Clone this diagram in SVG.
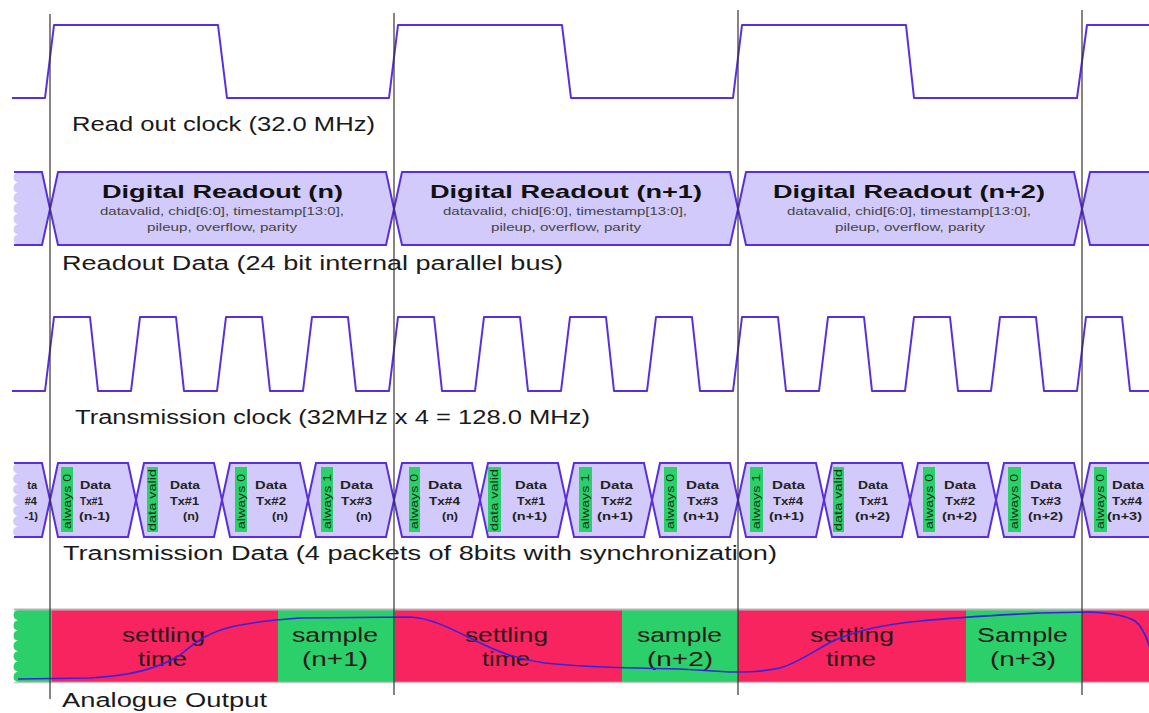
<svg xmlns="http://www.w3.org/2000/svg" width="1149" height="713" viewBox="0 0 1149 713">
<style>
.wave{fill:none;stroke:#5a2ee0;stroke-width:2;stroke-linejoin:round}
.bus{fill:#d2cafa;stroke:#5a2ee0;stroke-width:2;stroke-linejoin:miter}
.busf{fill:#d2cafa;stroke:none}
.edge{fill:none;stroke:#5a2ee0;stroke-width:2}
.lbl{font-family:"Liberation Sans",Arial,sans-serif;font-size:20px;fill:#1a1a1a}
.big{font-family:"Liberation Sans",Arial,sans-serif;font-size:19px;font-weight:bold;fill:#111}
.sub{font-family:"Liberation Sans",Arial,sans-serif;font-size:11px;fill:#444}
.pk{font-family:"Liberation Sans",Arial,sans-serif;font-size:11px;font-weight:bold;fill:#222}
.gr{fill:#2bd06a}
.gt{font-family:"Liberation Sans",Arial,sans-serif;font-size:10px;fill:#123018}
.red{fill:#f7245f}
.at{font-family:"Liberation Sans",Arial,sans-serif;font-size:20px;fill:#2a1a1a}
.vl{stroke:#333;stroke-width:1.2}
</style>

<!-- Read out clock -->
<g id="readout-clock">
<path class="wave" d="M12,98 L45,98 L54,25 L218,25 L227,98 L389,98 L398,25 L562,25 L571,98 L733,98 L742,25 L906,25 L914,98 L1077,98 L1087,25 L1149,25"/>
<text class="lbl" x="72" y="131" textLength="303" lengthAdjust="spacingAndGlyphs">Read out clock (32.0 MHz)</text>
</g>

<!-- Readout data bus -->
<g id="readout-data">
<path class="busf" d="M18,172 L42,172 L50,209 L42,245 L18,245 a5.3,5.3 0 0 1 0,-10.43 a5.3,5.3 0 0 1 0,-10.43 a5.3,5.3 0 0 1 0,-10.43 a5.3,5.3 0 0 1 0,-10.43 a5.3,5.3 0 0 1 0,-10.43 a5.3,5.3 0 0 1 0,-10.43 a5.3,5.3 0 0 1 0,-10.43 Z"/>
<path class="edge" d="M14,172 L42,172 L50,209 L42,245 L14,245"/>
<g id="readout-n">
<polygon class="bus" points="50,209 58,172 386,172 394,209 386,245 58,245"/>
<text class="big" x="102" y="198" textLength="241" lengthAdjust="spacingAndGlyphs">Digital Readout (n)</text>
<text class="sub" x="100" y="215" textLength="244" lengthAdjust="spacingAndGlyphs">datavalid, chid[6:0], timestamp[13:0],</text>
<text class="sub" x="147" y="231" textLength="150" lengthAdjust="spacingAndGlyphs">pileup, overflow, parity</text>
</g>
<g id="readout-n1">
<polygon class="bus" points="394,209 402,172 730,172 738,209 730,245 402,245"/>
<text class="big" x="430" y="198" textLength="272" lengthAdjust="spacingAndGlyphs">Digital Readout (n+1)</text>
<text class="sub" x="443" y="215" textLength="244" lengthAdjust="spacingAndGlyphs">datavalid, chid[6:0], timestamp[13:0],</text>
<text class="sub" x="491" y="231" textLength="150" lengthAdjust="spacingAndGlyphs">pileup, overflow, parity</text>
</g>
<g id="readout-n2">
<polygon class="bus" points="738,209 746,172 1074,172 1082,209 1074,245 746,245"/>
<text class="big" x="773" y="198" textLength="272" lengthAdjust="spacingAndGlyphs">Digital Readout (n+2)</text>
<text class="sub" x="787" y="215" textLength="244" lengthAdjust="spacingAndGlyphs">datavalid, chid[6:0], timestamp[13:0],</text>
<text class="sub" x="835" y="231" textLength="150" lengthAdjust="spacingAndGlyphs">pileup, overflow, parity</text>
</g>
<path class="bus" d="M1150,172 L1090,172 L1082,209 L1090,245 L1150,245"/>
<text class="lbl" x="62" y="270" textLength="501" lengthAdjust="spacingAndGlyphs">Readout Data (24 bit internal parallel bus)</text>
</g>

<!-- Transmission clock -->
<g id="transmission-clock">
<path class="wave" d="M12,391 L45,391 L54,317 L90,317 L98,391 L131,391 L140,317 L176,317 L184,391 L217,391 L226,317 L262,317 L270,391 L303,391 L312,317 L348,317 L356,391 L389,391 L398,317 L434,317 L442,391 L475,391 L484,317 L520,317 L528,391 L561,391 L570,317 L606,317 L614,391 L647,391 L656,317 L692,317 L700,391 L733,391 L742,317 L778,317 L786,391 L819,391 L828,317 L864,317 L872,391 L905,391 L914,317 L950,317 L958,391 L991,391 L1000,317 L1036,317 L1044,391 L1077,391 L1086,317 L1122,317 L1130,391 L1149,391"/>
<text class="lbl" x="75" y="424" textLength="515" lengthAdjust="spacingAndGlyphs">Transmission clock (32MHz x 4 = 128.0 MHz)</text>
</g>

<!-- Transmission data packets -->
<g id="transmission-data">
<path class="busf" d="M18,463 L42,463 L50,500 L42,537 L18,537 a5.3,5.3 0 0 1 0,-10.57 a5.3,5.3 0 0 1 0,-10.57 a5.3,5.3 0 0 1 0,-10.57 a5.3,5.3 0 0 1 0,-10.57 a5.3,5.3 0 0 1 0,-10.57 a5.3,5.3 0 0 1 0,-10.57 a5.3,5.3 0 0 1 0,-10.57 Z"/>
<path class="edge" d="M14,463 L42,463 L50,500 L42,537 L14,537"/>
<text class="pk" x="37" y="489" text-anchor="end">ta</text>
<text class="pk" x="37" y="505" text-anchor="end">#4</text>
<text class="pk" x="38" y="520" text-anchor="end">-1)</text>

<g id="pk0"><polygon class="bus" points="50,500 58,463 128,463 136,500 128,537 58,537"/><rect class="gr" x="61" y="467" width="12" height="65"/><text class="gt" transform="translate(71,529) rotate(-90)" textLength="55" lengthAdjust="spacingAndGlyphs">always 0</text><text class="pk" x="80" y="489" textLength="31" lengthAdjust="spacingAndGlyphs">Data</text><text class="pk" x="80" y="505" textLength="23" lengthAdjust="spacingAndGlyphs">Tx#1</text><text class="pk" x="79" y="520" textLength="31" lengthAdjust="spacingAndGlyphs">(n-1)</text></g>
<g id="pk1"><polygon class="bus" points="136,500 144,463 214,463 222,500 214,537 144,537"/><rect class="gr" x="147" y="467" width="11" height="65"/><text class="gt" transform="translate(156,531) rotate(-90)" textLength="62" lengthAdjust="spacingAndGlyphs">data valid</text><text class="pk" x="170" y="489" textLength="30" lengthAdjust="spacingAndGlyphs">Data</text><text class="pk" x="170" y="505" textLength="29" lengthAdjust="spacingAndGlyphs">Tx#1</text><text class="pk" x="183" y="520" textLength="16" lengthAdjust="spacingAndGlyphs">(n)</text></g>
<g id="pk2"><polygon class="bus" points="222,500 230,463 300,463 308,500 300,537 230,537"/><rect class="gr" x="235" y="467" width="12" height="65"/><text class="gt" transform="translate(245,529) rotate(-90)" textLength="55" lengthAdjust="spacingAndGlyphs">always 0</text><text class="pk" x="255" y="489" textLength="32" lengthAdjust="spacingAndGlyphs">Data</text><text class="pk" x="256" y="505" textLength="30" lengthAdjust="spacingAndGlyphs">Tx#2</text><text class="pk" x="272" y="520" textLength="16" lengthAdjust="spacingAndGlyphs">(n)</text></g>
<g id="pk3"><polygon class="bus" points="308,500 316,463 386,463 394,500 386,537 316,537"/><rect class="gr" x="321" y="467" width="12" height="65"/><text class="gt" transform="translate(331,529) rotate(-90)" textLength="55" lengthAdjust="spacingAndGlyphs">always 1</text><text class="pk" x="340" y="489" textLength="33" lengthAdjust="spacingAndGlyphs">Data</text><text class="pk" x="341" y="505" textLength="31" lengthAdjust="spacingAndGlyphs">Tx#3</text><text class="pk" x="356" y="520" textLength="16" lengthAdjust="spacingAndGlyphs">(n)</text></g>
<g id="pk4"><polygon class="bus" points="394,500 402,463 472,463 480,500 472,537 402,537"/><rect class="gr" x="409" y="467" width="11" height="65"/><text class="gt" transform="translate(418,529) rotate(-90)" textLength="55" lengthAdjust="spacingAndGlyphs">always 0</text><text class="pk" x="428" y="489" textLength="34" lengthAdjust="spacingAndGlyphs">Data</text><text class="pk" x="429" y="505" textLength="31" lengthAdjust="spacingAndGlyphs">Tx#4</text><text class="pk" x="442" y="520" textLength="16" lengthAdjust="spacingAndGlyphs">(n)</text></g>
<g id="pk5"><polygon class="bus" points="480,500 488,463 558,463 566,500 558,537 488,537"/><rect class="gr" x="488" y="467" width="13" height="65"/><text class="gt" transform="translate(498,531) rotate(-90)" textLength="62" lengthAdjust="spacingAndGlyphs">data valid</text><text class="pk" x="515" y="489" textLength="32" lengthAdjust="spacingAndGlyphs">Data</text><text class="pk" x="517" y="505" textLength="28" lengthAdjust="spacingAndGlyphs">Tx#1</text><text class="pk" x="512" y="520" textLength="35" lengthAdjust="spacingAndGlyphs">(n+1)</text></g>
<g id="pk6"><polygon class="bus" points="566,500 574,463 644,463 652,500 644,537 574,537"/><rect class="gr" x="579" y="467" width="13" height="65"/><text class="gt" transform="translate(589,529) rotate(-90)" textLength="55" lengthAdjust="spacingAndGlyphs">always 1</text><text class="pk" x="600" y="489" textLength="33" lengthAdjust="spacingAndGlyphs">Data</text><text class="pk" x="601" y="505" textLength="31" lengthAdjust="spacingAndGlyphs">Tx#2</text><text class="pk" x="597" y="520" textLength="36" lengthAdjust="spacingAndGlyphs">(n+1)</text></g>
<g id="pk7"><polygon class="bus" points="652,500 660,463 730,463 738,500 730,537 660,537"/><rect class="gr" x="664" y="467" width="13" height="65"/><text class="gt" transform="translate(674,529) rotate(-90)" textLength="55" lengthAdjust="spacingAndGlyphs">always 0</text><text class="pk" x="686" y="489" textLength="33" lengthAdjust="spacingAndGlyphs">Data</text><text class="pk" x="687" y="505" textLength="31" lengthAdjust="spacingAndGlyphs">Tx#3</text><text class="pk" x="683" y="520" textLength="36" lengthAdjust="spacingAndGlyphs">(n+1)</text></g>
<g id="pk8"><polygon class="bus" points="738,500 746,463 816,463 824,500 816,537 746,537"/><rect class="gr" x="750" y="467" width="13" height="65"/><text class="gt" transform="translate(760,529) rotate(-90)" textLength="55" lengthAdjust="spacingAndGlyphs">always 1</text><text class="pk" x="772" y="489" textLength="33" lengthAdjust="spacingAndGlyphs">Data</text><text class="pk" x="773" y="505" textLength="30" lengthAdjust="spacingAndGlyphs">Tx#4</text><text class="pk" x="769" y="520" textLength="35" lengthAdjust="spacingAndGlyphs">(n+1)</text></g>
<g id="pk9"><polygon class="bus" points="824,500 832,463 902,463 910,500 902,537 832,537"/><rect class="gr" x="833" y="467" width="11" height="65"/><text class="gt" transform="translate(842,531) rotate(-90)" textLength="62" lengthAdjust="spacingAndGlyphs">data valid</text><text class="pk" x="858" y="489" textLength="30" lengthAdjust="spacingAndGlyphs">Data</text><text class="pk" x="859" y="505" textLength="29" lengthAdjust="spacingAndGlyphs">Tx#1</text><text class="pk" x="855" y="520" textLength="35" lengthAdjust="spacingAndGlyphs">(n+2)</text></g>
<g id="pk10"><polygon class="bus" points="910,500 918,463 988,463 996,500 988,537 918,537"/><rect class="gr" x="923" y="467" width="12" height="65"/><text class="gt" transform="translate(933,529) rotate(-90)" textLength="55" lengthAdjust="spacingAndGlyphs">always 0</text><text class="pk" x="944" y="489" textLength="32" lengthAdjust="spacingAndGlyphs">Data</text><text class="pk" x="945" y="505" textLength="30" lengthAdjust="spacingAndGlyphs">Tx#2</text><text class="pk" x="942" y="520" textLength="35" lengthAdjust="spacingAndGlyphs">(n+2)</text></g>
<g id="pk11"><polygon class="bus" points="996,500 1004,463 1074,463 1082,500 1074,537 1004,537"/><rect class="gr" x="1008" y="467" width="13" height="65"/><text class="gt" transform="translate(1018,529) rotate(-90)" textLength="55" lengthAdjust="spacingAndGlyphs">always 0</text><text class="pk" x="1030" y="489" textLength="32" lengthAdjust="spacingAndGlyphs">Data</text><text class="pk" x="1031" y="505" textLength="30" lengthAdjust="spacingAndGlyphs">Tx#3</text><text class="pk" x="1028" y="520" textLength="35" lengthAdjust="spacingAndGlyphs">(n+2)</text></g>
<g id="pk12"><path class="bus" d="M1150,463 L1090,463 L1082,500 L1090,537 L1150,537"/><rect class="gr" x="1094" y="467" width="13" height="65"/><text class="gt" transform="translate(1104,529) rotate(-90)" textLength="55" lengthAdjust="spacingAndGlyphs">always 0</text><text class="pk" x="1112" y="489" textLength="32" lengthAdjust="spacingAndGlyphs">Data</text><text class="pk" x="1112" y="505" textLength="30" lengthAdjust="spacingAndGlyphs">Tx#4</text><text class="pk" x="1107" y="520" textLength="35" lengthAdjust="spacingAndGlyphs">(n+3)</text></g>
<text class="lbl" x="63" y="560" textLength="714" lengthAdjust="spacingAndGlyphs">Transmission Data (4 packets of 8bits with synchronization)</text>
</g>

<!-- Analogue output -->
<g id="analogue-output">
<path class="gr" d="M18,610 L52,610 L52,682 L18,682 a5.2,5.2 0 0 1 0,-10.29 a5.2,5.2 0 0 1 0,-10.29 a5.2,5.2 0 0 1 0,-10.29 a5.2,5.2 0 0 1 0,-10.29 a5.2,5.2 0 0 1 0,-10.29 a5.2,5.2 0 0 1 0,-10.29 a5.2,5.2 0 0 1 0,-10.29 Z"/>
<rect class="red" x="52" y="610" width="226" height="72"/>
<rect class="gr" x="278" y="610" width="117" height="72"/>
<rect class="red" x="395" y="610" width="227" height="72"/>
<rect class="gr" x="622" y="610" width="116" height="72"/>
<rect class="red" x="738" y="610" width="228" height="72"/>
<rect class="gr" x="966" y="610" width="116" height="72"/>
<rect class="red" x="1082" y="610" width="67" height="72"/>
<line x1="14" y1="609.5" x2="1149" y2="609.5" stroke="#b4b4b4" stroke-width="2"/>
<line x1="14" y1="682.5" x2="1149" y2="682.5" stroke="#c4c4c4" stroke-width="1.5"/>
<text class="at" x="122" y="642" textLength="83" lengthAdjust="spacingAndGlyphs">settling</text>
<text class="at" x="138" y="666" textLength="49" lengthAdjust="spacingAndGlyphs">time</text>
<text class="at" x="292" y="642" textLength="86" lengthAdjust="spacingAndGlyphs">sample</text>
<text class="at" x="302" y="666" textLength="66" lengthAdjust="spacingAndGlyphs">(n+1)</text>
<text class="at" x="465" y="642" textLength="83" lengthAdjust="spacingAndGlyphs">settling</text>
<text class="at" x="482" y="666" textLength="48" lengthAdjust="spacingAndGlyphs">time</text>
<text class="at" x="637" y="642" textLength="85" lengthAdjust="spacingAndGlyphs">sample</text>
<text class="at" x="647" y="666" textLength="66" lengthAdjust="spacingAndGlyphs">(n+2)</text>
<text class="at" x="810" y="642" textLength="84" lengthAdjust="spacingAndGlyphs">settling</text>
<text class="at" x="826" y="666" textLength="50" lengthAdjust="spacingAndGlyphs">time</text>
<text class="at" x="977" y="642" textLength="91" lengthAdjust="spacingAndGlyphs">Sample</text>
<text class="at" x="990" y="666" textLength="66" lengthAdjust="spacingAndGlyphs">(n+3)</text>
<path fill="none" stroke="#3a22dd" stroke-width="1.6" d="M18,679 L90,678 C130,676 160,668 180,655 C195,643 205,633 235,626 C255,622 270,620 300,618 L410,617 C430,618 450,628 470,638 C490,648 510,658 545,663 C580,667 620,668 680,669 L730,672 C748,672 760,672 780,668 C800,662 815,650 835,640 C860,630 880,625 920,621 C950,618 980,616 1040,613 L1090,612 C1110,613 1125,615 1135,621 C1142,626 1146,635 1150,648"/>
<text class="lbl" x="62" y="707" textLength="205" lengthAdjust="spacingAndGlyphs">Analogue Output</text>
</g>

<!-- Reference lines -->
<g id="markers">
<line class="vl" x1="50" y1="14" x2="50" y2="699"/>
<line class="vl" x1="394" y1="13" x2="394" y2="695"/>
<line class="vl" x1="738" y1="10" x2="738" y2="695"/>
<line class="vl" x1="1082" y1="10" x2="1082" y2="695"/>
</g>
</svg>
